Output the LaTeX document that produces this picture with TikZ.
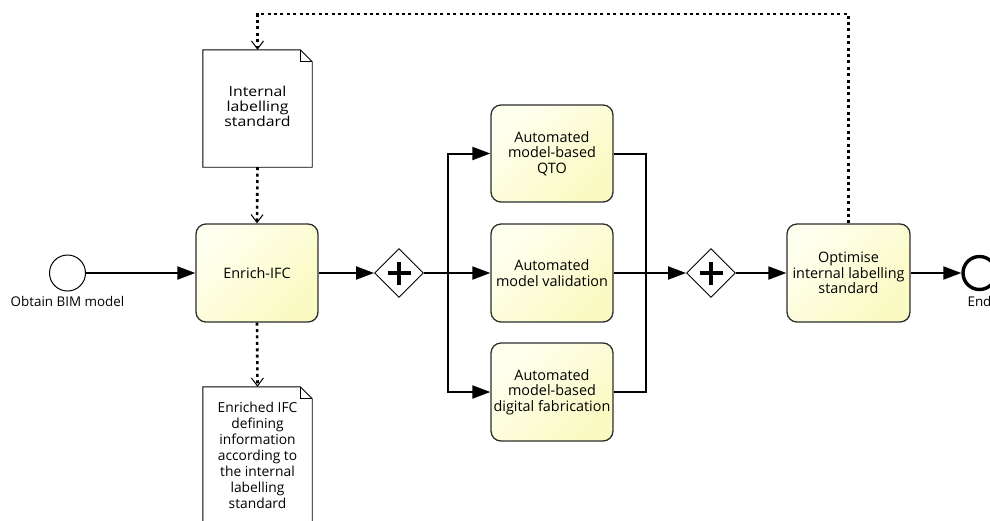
\documentclass[tikz,border=0pt]{standalone}
\usepackage{fontspec}
\usepackage{graphicx}
\setmainfont{Open Sans}
\usetikzlibrary{arrows.meta,shapes.geometric}

\definecolor{taskA}{RGB}{255,255,240}
\definecolor{taskB}{RGB}{250,250,194}
\definecolor{taskline}{RGB}{45,45,45}

\newcommand\docoutline[1]{%
  \draw[docline] (#1.north west) -- ([xshift=-12pt]#1.north east)
    -- ([yshift=-12pt]#1.north east) -- (#1.south east)
    -- (#1.south west) -- cycle;
  \draw[docline] ([xshift=-12pt]#1.north east)
    -- ([xshift=-12pt,yshift=-12pt]#1.north east)
    -- ([yshift=-12pt]#1.north east);}

\begin{document}
\begin{tikzpicture}[x=1pt,y=-1pt,
  task/.style={draw=taskline, line width=1.3pt, rounded corners=10pt,
    minimum width=122pt, minimum height=98pt, inner sep=0pt,
    top color=taskA, bottom color=taskB, shading angle=45,
    align=center, font=\fontsize{14.4}{15.4}\selectfont},
  gate/.style={draw, fill=white, line width=0.9pt, diamond, aspect=1,
    minimum width=49pt, minimum height=49pt, inner sep=0pt},
  plus/.style={line width=3.8pt},
  docbox/.style={minimum width=109pt, inner sep=0pt, align=center,
    font=\fontsize{13.8}{16}\selectfont},
  docline/.style={draw, line width=0.9pt, line join=miter},
  evt/.style={circle, draw, fill=white, minimum size=36pt, inner sep=0pt},
  lbl/.style={font=\fontsize{13.4}{15}\selectfont, inner sep=0pt},
  seq/.style={line width=2pt},
  flow/.style={seq, -{Triangle[length=18pt,width=13pt]}},
  assoc/.style={line width=2.6pt, dash pattern=on 3pt off 3.4pt,
    -{Straight Barb[length=8pt,width=12pt,line width=1pt]}}]

\useasboundingbox (0,0) rectangle (990,520);
\clip (0,0) rectangle (990,520);

% events
\node[evt, line width=1pt] (start) at (67.5,273) {};
\node[lbl] (startlbl) at (67.5,301) {Obtain BIM model};
\node[evt, line width=3.4pt, minimum size=33pt] (end) at (979.5,273) {};
\node[lbl] (endlbl) at (979.5,301) {End};

% tasks
\node[task] (enrich) at (257,273) {Enrich-IFC};
\node[task, minimum height=97pt] (qto) at (552,153.5) {Automated\\model-based\\QTO};
\node[task] (val) at (552,273) {Automated\\model validation};
\node[task] (fab) at (552,392) {Automated\\model-based\\digital fabrication};
\node[task, minimum width=123pt] (opt) at (848.5,273) {Optimise\\internal labelling\\standard};

% gateways
\node[gate] (g1) at (399,273) {};
\node[gate] (g2) at (711,273) {};
\foreach \g in {g1,g2}{
  \draw[plus] (\g.center) ++(-11.5,0) -- ++(23,0);
  \draw[plus] (\g.center) ++(0,-11.5) -- ++(0,23);
}

% data objects
\node[docbox, minimum height=117pt] (doc1) at (257.5,108.5)
  {\fontsize{13.8}{14.2}\selectfont
   \scalebox{1.15}[1]{\begin{tabular}{@{}c@{}}Internal\\labelling\\standard\end{tabular}}};
\docoutline{doc1}
\node[docbox, minimum height=136pt] (doc2) at (257.5,455)
  {Enriched IFC\\defining\\information\\according to\\the internal\\labelling\\standard};
\docoutline{doc2}

% routing points
\coordinate (split) at (448,273);
\coordinate (join) at (646,273);
\coordinate (top) at (0,14);

% sequence flows
\draw[flow] (start) -- (enrich);
\draw[flow] (enrich) -- (g1);
\draw[seq] (g1) -- (split);
\draw[flow] (split) -- (val);
\draw[flow] (split) |- (qto.west);
\draw[flow] (split) |- (fab.west);
\draw[seq] (qto.east) -| (join) |- (fab.east);
\draw[seq] (val) -- (join);
\draw[flow] (join) -- (g2);
\draw[flow] (g2) -- (opt);
\draw[flow] (opt) -- (end);

% associations
\draw[assoc] (opt.north) -- (opt.north |- top) -- (doc1.north |- top) -- (doc1.north);
\draw[assoc] (doc1.south) -- (enrich.north);
\draw[assoc] (enrich.south) -- (doc2.north);
\end{tikzpicture}
\end{document}
